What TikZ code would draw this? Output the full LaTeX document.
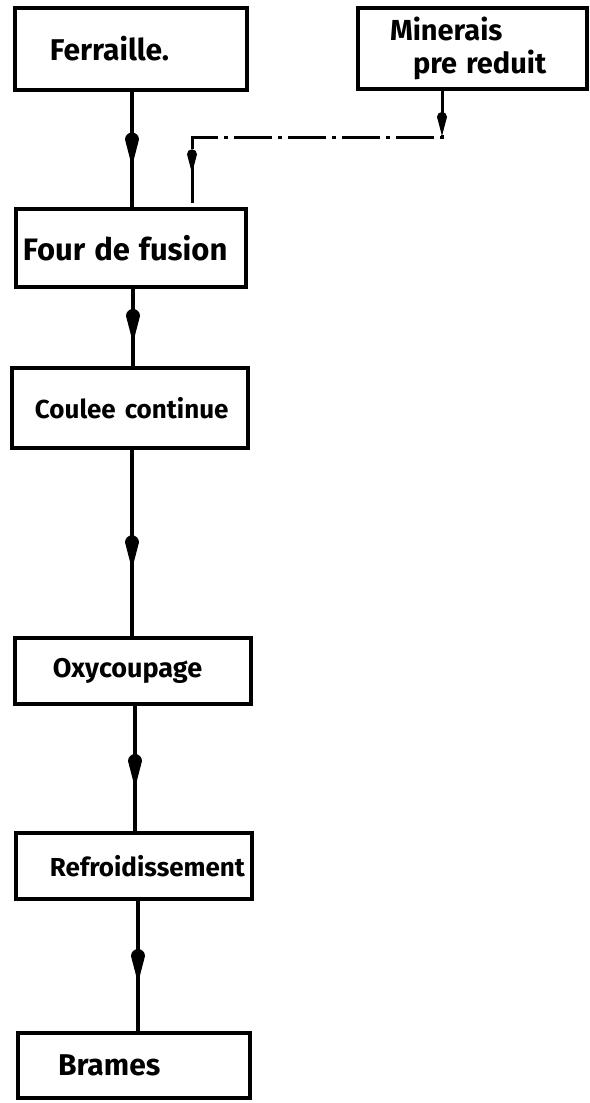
\documentclass[tikz,border=0pt]{standalone}
\usepackage{fontspec}
\setmainfont{Fira Sans}
\usetikzlibrary{decorations.markings}

\begin{document}
\begin{tikzpicture}[x=1pt,y=-1pt]
\tikzset{
  box/.style={draw, line width=4pt, rectangle, inner xsep=0pt, inner ysep=0pt,
    align=left, font=\bfseries\fontsize{27}{33}\selectfont},
  flow/.style={line width=3.4pt},
  feed/.style={line width=3pt, dash pattern=on 38pt off 6pt on 4pt off 6pt},
  midarrow/.style={postaction={decorate}, decoration={markings,
    mark=at position #1 with {\fill (17pt,0pt) -- (-10pt,7pt) arc[start angle=90,end angle=270,radius=7pt] -- cycle;}}},
}
\useasboundingbox (0,0) rectangle (589,1103);

% process boxes
\node[box, text width=232pt, minimum height=82pt] (ferraille) at (131,49) {\hspace*{35pt}{\fontsize{30}{33}\selectfont Ferraille.}};
\node[box, text width=229pt, minimum height=81pt] (minerais) at (472.5,48.5) {\hspace*{32pt}{\fontsize{29}{31}\selectfont Minerais}\\\hspace*{55pt}{\fontsize{29}{31}\selectfont pre reduit}};
\node[box, text width=230pt, minimum height=78pt] (four) at (131,248) {\hspace*{7pt}{\fontsize{31}{33}\selectfont Four de fusion}};
\node[box, text width=236pt, minimum height=80pt] (coulee) at (130,408) {\hspace*{23pt}{\fontsize{26}{33}\selectfont Coulee continue}};
\node[box, text width=236pt, minimum height=66pt] (oxy) at (133,671) {\hspace*{38pt}Oxycoupage};
\node[box, text width=236pt, minimum height=66pt] (refroid) at (134,866) {\hspace*{34pt}{\fontsize{26}{33}\selectfont Refroidissement}};
\node[box, text width=232pt, minimum height=65pt] (brames) at (134,1065.5) {\hspace*{40pt}{\fontsize{30}{33}\selectfont Brames}};

% main line
\draw[flow, midarrow=0.5] ([xshift=1pt]ferraille.south) -- ([xshift=1pt]four.north);
\draw[flow, midarrow=0.48] ([xshift=2pt]four.south) -- ([xshift=3pt]coulee.north);
\draw[flow, midarrow=0.55] ([xshift=2pt]coulee.south) -- ([xshift=-1pt]oxy.north);
\draw[flow, midarrow=0.52] ([xshift=2pt]oxy.south) -- ([xshift=1pt]refroid.north);
\draw[flow, midarrow=0.5] ([xshift=4pt]refroid.south) -- ([xshift=4pt]brames.north);

% pre-reduced ore feed
\coordinate (bend) at (192,137);
\draw[feed, postaction={decorate}, decoration={markings,
    mark=at position 0.09 with {\fill[solid] (12pt,0pt) -- (-7pt,5pt) arc[start angle=90,end angle=270,radius=5pt] -- cycle;},
    mark=at position 0.875 with {\fill[solid] (12pt,0pt) -- (-7pt,5pt) arc[start angle=90,end angle=270,radius=5pt] -- cycle;}}]
  ([xshift=-30.5pt]minerais.south) |- (bend) -- ([xshift=61pt]four.north);
\end{tikzpicture}
\end{document}
